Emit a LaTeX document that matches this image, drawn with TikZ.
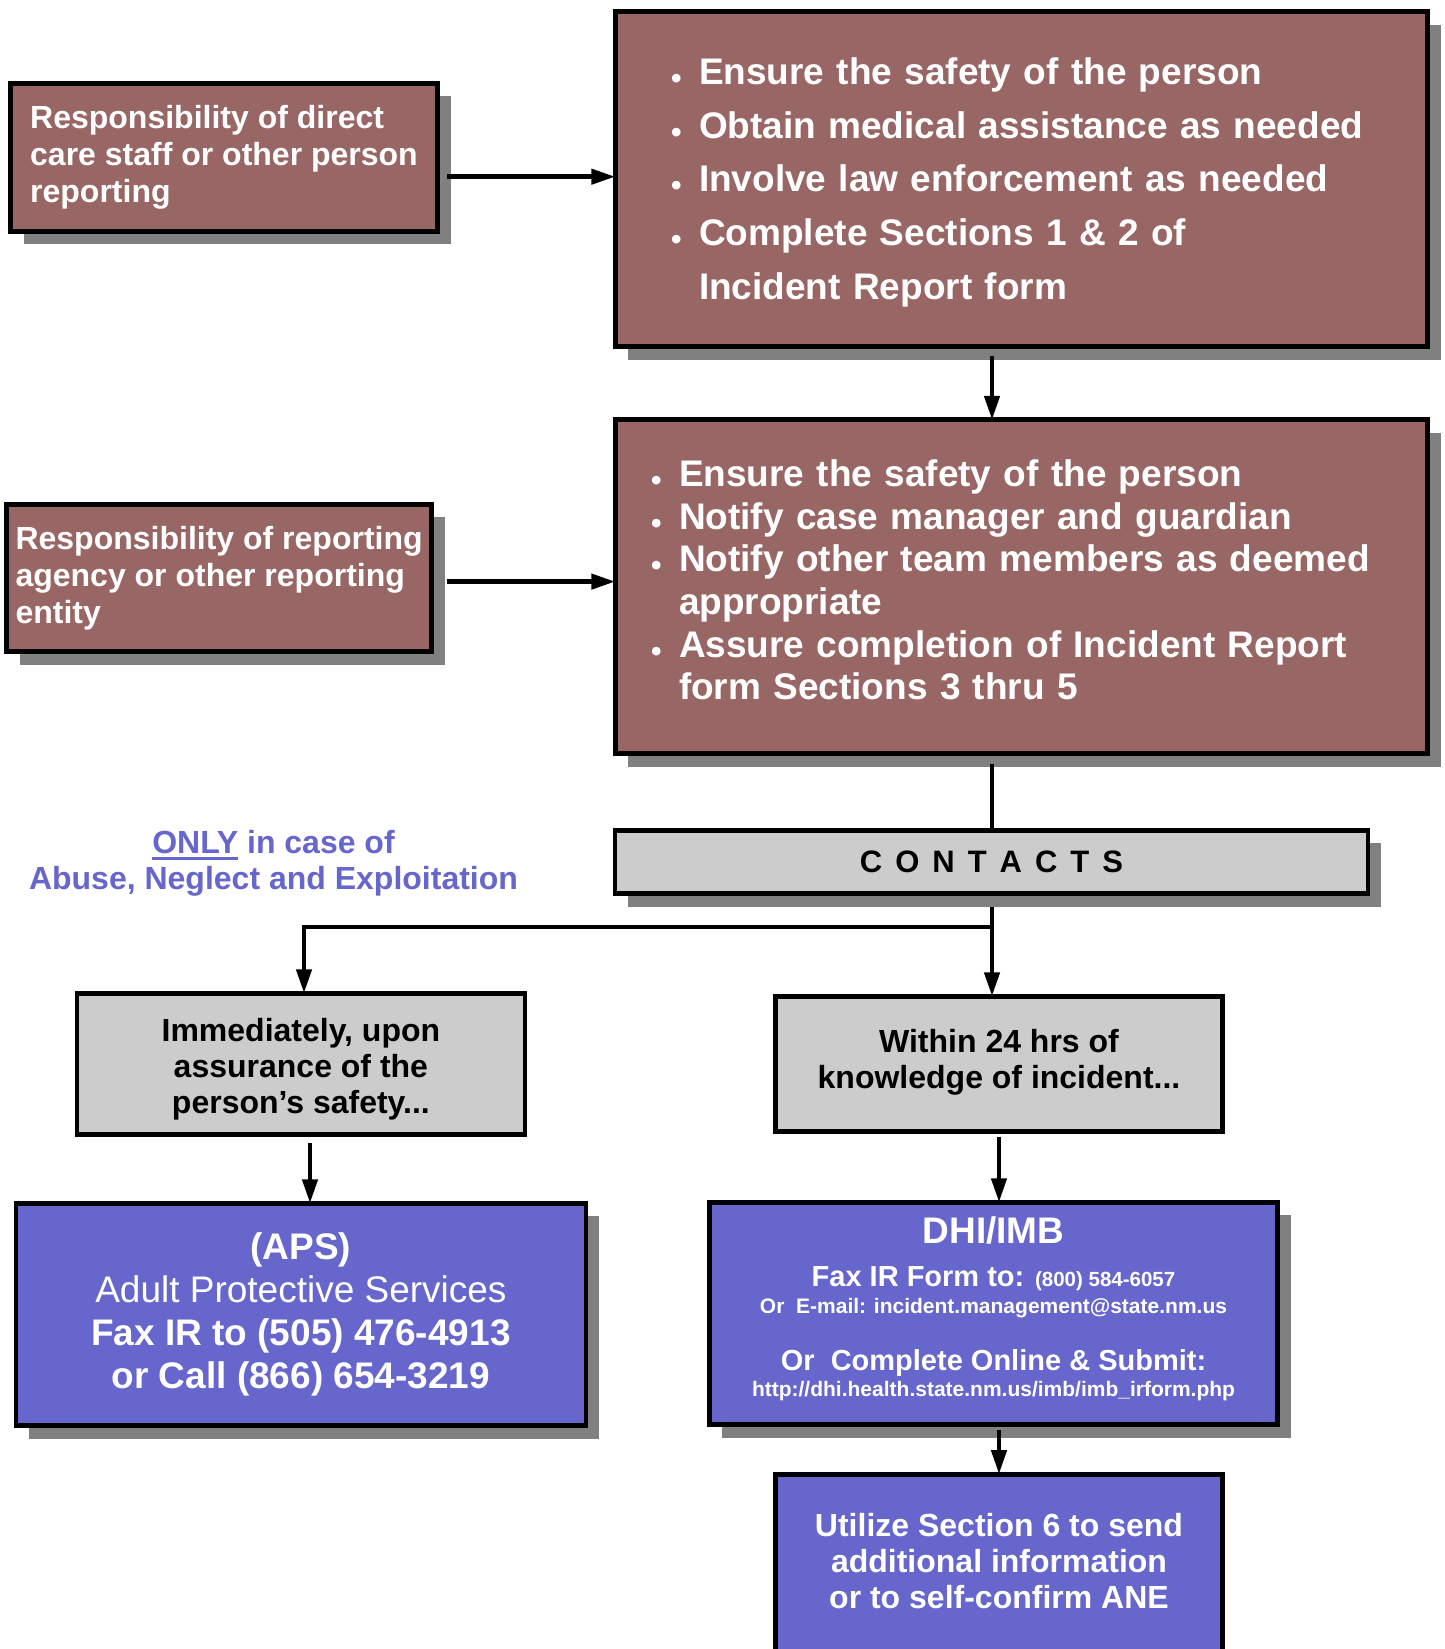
\documentclass[tikz,border=0pt]{standalone}
\usepackage{fontspec}
\setmainfont{Liberation Sans}
\usetikzlibrary{arrows.meta,shadows}
\definecolor{cbrown}{HTML}{996666}
\definecolor{cblue}{HTML}{6666CC}
\definecolor{cgray}{HTML}{CCCCCC}
\definecolor{cshadow}{HTML}{808080}
\newcommand\fsz[2]{\fontsize{#1pt}{#2pt}\selectfont}
\newcommand\bul{\makebox[28pt][l]{\raisebox{-4pt}{\fsz{30}{30}\textbullet}}}
\newcommand\indt{\hspace*{28pt}}
\newcommand\myul[1]{\setbox0=\hbox{#1}\rlap{\rule[-6.5pt]{\wd0}{2.7pt}}\box0\relax}
\tikzset{
  box/.style={draw=black, line width=4.8pt, inner sep=0pt, outer sep=0pt},
  shad/.style={drop shadow={shadow xshift=13pt, shadow yshift=-13pt, fill=cshadow, opacity=1}},
  brownbox/.style={box, shad, fill=cbrown, text=white, font=\bfseries\fsz{32}{37}, align=left},
  graybox/.style={box, fill=cgray, text=black, font=\bfseries\fsz{32}{36.3}, align=center},
  bluebox/.style={box, fill=cblue, text=white, align=center},
  wtext/.style={inner sep=0pt, outer sep=0pt, text=white, font=\bfseries},
  conn/.style={line width=4.5pt, draw=black},
  arr/.style={conn, -{Triangle[length=24pt,width=15pt]}},
}
\begin{document}
\begin{tikzpicture}[x=1pt,y=-1pt]
\useasboundingbox (0,0) rectangle (1445,1649);
\fill[white] (0,0) rectangle (1445,1649);

% left responsibility boxes
\node[brownbox, minimum width=427pt, minimum height=148pt] (b1) at (224,157.3)
  {Responsibility of direct\\care staff or other person\\reporting};
\node[brownbox, minimum width=425pt, minimum height=147.5pt] (b4) at (219.1,578)
  {Responsibility of reporting\\agency or other reporting\\entity};

% right task boxes
\node[brownbox, minimum width=812.5pt, minimum height=335pt, text width=701pt,
      font=\bfseries\fsz{37}{53.6}] (b2) at (1021.5,179.3)
  {\rule{0pt}{33pt}\bul Ensure the safety of the person\\
   \bul Obtain medical assistance as needed\\
   \bul Involve law enforcement as needed\\
   \bul Complete Sections 1 \& 2 of\\
   \indt Incident Report form};
\node[brownbox, minimum width=812.5pt, minimum height=334pt, text width=741pt,
      font=\bfseries\fsz{37}{42.7}] (b3) at (1021.5,586.8)
  {\bul Ensure the safety of the person\\
   \bul Notify case manager and guardian\\
   \bul Notify other team members as deemed\\
   \indt appropriate\\
   \bul Assure completion of Incident Report\\
   \indt form Sections 3 thru 5\rule[-14pt]{0pt}{14pt}};

% contacts
\node[box, shad, fill=cgray, font=\bfseries\fsz{31}{31}, minimum width=753pt, minimum height=63.5pt] (contacts) at (991.5,862)
  {C\hspace{13pt}O\hspace{13pt}N\hspace{13pt}T\hspace{13pt}A\hspace{13pt}C\hspace{13pt}T\hspace{13pt}S};

% note
\node[inner sep=0pt, text=cblue, font=\bfseries\fsz{32}{36.7}, align=center] (note) at (273.5,863.4)
  {\myul{ONLY} in case of\\Abuse, Neglect and Exploitation};

% timing boxes
\node[graybox, minimum width=448pt, minimum height=141.5pt] (imm) at (300.9,1064)
  {\rule{0pt}{34pt}Immediately, upon\\assurance of the\\person’s safety...};
\node[graybox, minimum width=447.5pt, minimum height=135.5pt] (within) at (999,1064)
  {Within 24 hrs of\\knowledge of incident...\rule[-10pt]{0pt}{10pt}};

% APS
\node[bluebox, shad, minimum width=570pt, minimum height=222.5pt, font=\fsz{37}{43}] (aps) at (300.9,1314.5)
  {\textbf{(APS)}\\Adult Protective Services\\\textbf{Fax IR to (505) 476-4913}\\\textbf{or Call (866) 654-3219}};

% DHI
\node[bluebox, shad, minimum width=568.5pt, minimum height=222.5pt] (dhi) at (993.5,1313.5) {};
\node[wtext, anchor=base, font=\bfseries\fsz{37}{37}] (dhi1) at (993.5,1243.3) {DHI/IMB};
\node[wtext, anchor=base] (dhi2) at (993.5,1286.7)
  {{\fsz{29}{29}Fax IR Form to: }{\fsz{20.5}{20.5}(800) 584-6057}};
\node[wtext, anchor=base, font=\bfseries\fsz{21}{21}] (dhi3) at (993.5,1313.3)
  {Or~~E-mail: incident.management@state.nm.us};
\node[wtext, anchor=base, font=\bfseries\fsz{29}{29}] (dhi4) at (993.5,1370)
  {Or~~Complete Online \& Submit:};
\node[wtext, anchor=base, font=\bfseries\fsz{21}{21}] (dhi5) at (993.5,1396.7)
  {http://dhi.health.state.nm.us/imb/imb\_irform.php};

% utilize
\node[bluebox, minimum width=447.5pt, minimum height=185.75pt, font=\bfseries\fsz{32}{36}] (util) at (999,1567)
  {Utilize Section 6 to send\\additional information\\or to self-confirm ANE\rule[-13pt]{0pt}{13pt}};

% helper coordinates
\coordinate (sp) at (992,0);
\coordinate (jn) at (992,927);
\coordinate (jl) at (304,927);
\coordinate (ax) at (310,0);

% connectors
\draw[arr] ([xshift=9.6pt,yshift=-19.4pt]b1.east) -- ([yshift=-19.4pt]b1.east -| b2.west);
\draw[arr] ([xshift=15pt,yshift=-3.6pt]b4.east) -- ([yshift=-3.6pt]b4.east -| b3.west);
\draw[arr] ([yshift=-8.75pt]b2.south -| sp) -- (b3.north -| sp);
\draw[conn] ([yshift=-9.75pt]b3.south -| sp) -- (contacts.north -| sp);
\draw[conn] ([yshift=-13pt]contacts.south -| sp) -- (jn);
\draw[arr] (jn) -- (jl) -- (imm.north -| jl);
\draw[arr] (jn) -- (within.north -| sp);
\draw[arr] ([yshift=-8.5pt]imm.south -| ax) -- (aps.north -| ax);
\draw[arr] ([yshift=-5pt]within.south) -- (dhi.north -| within.south);
\draw[arr] ([yshift=-5pt]dhi.south -| util.north) -- (util.north);
\end{tikzpicture}
\end{document}
